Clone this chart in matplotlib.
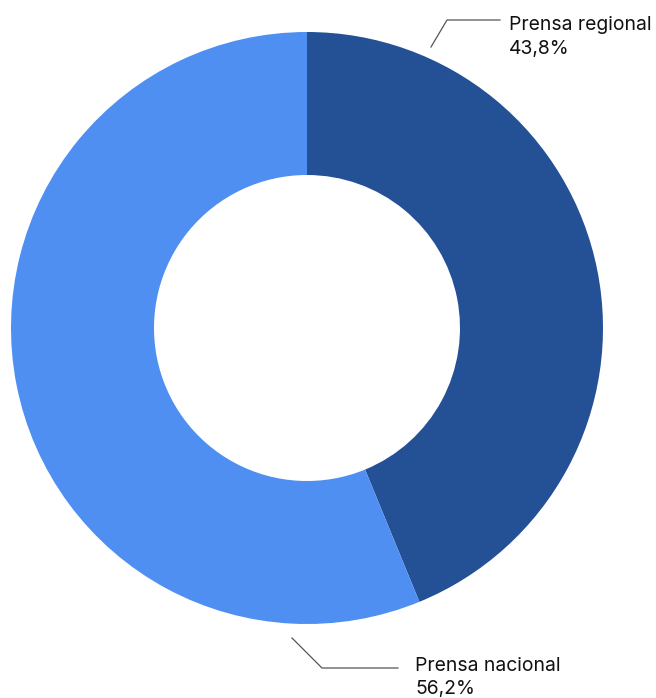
import matplotlib
matplotlib.use("Agg")
import matplotlib.pyplot as plt

categories = ["Prensa regional", "Prensa nacional"]
values = [43.8, 56.2]
value_labels = ["43,8%", "56,2%"]
colors = ["#245096", "#508FF2"]

plt.rcParams['font.family'] = ['Inter', 'DejaVu Sans']

W, H = 656, 698
fig = plt.figure(figsize=(W/100, H/100), dpi=100)
ax = fig.add_axes([0, 0, 1, 1])

cx, cy = 307, H - 328
R = 296
ax.pie(values, colors=colors, startangle=90, counterclock=False,
       center=(cx, cy), radius=R, frame=True,
       wedgeprops=dict(width=R - 153, linewidth=0))
ax.set_xlim(0, W)
ax.set_ylim(0, H)
ax.set_aspect('equal')
ax.axis('off')

def fy(y):
    return H - y

ax.plot([431, 447, 500], [fy(47), fy(20), fy(20)], color="#555555", lw=0.9)
ax.plot([292, 322, 398], [fy(638), fy(668), fy(668)], color="#555555", lw=0.9)

fs = 13.9
ax.text(509, fy(30), categories[0], fontsize=fs, ha='left', va='baseline', color="#111111")
ax.text(509, fy(54), value_labels[0], fontsize=fs, ha='left', va='baseline', color="#111111")
ax.text(415, fy(671), categories[1], fontsize=fs, ha='left', va='baseline', color="#111111")
ax.text(415, fy(694), value_labels[1], fontsize=fs, ha='left', va='baseline', color="#111111")

fig.savefig("out.png", dpi=100)
